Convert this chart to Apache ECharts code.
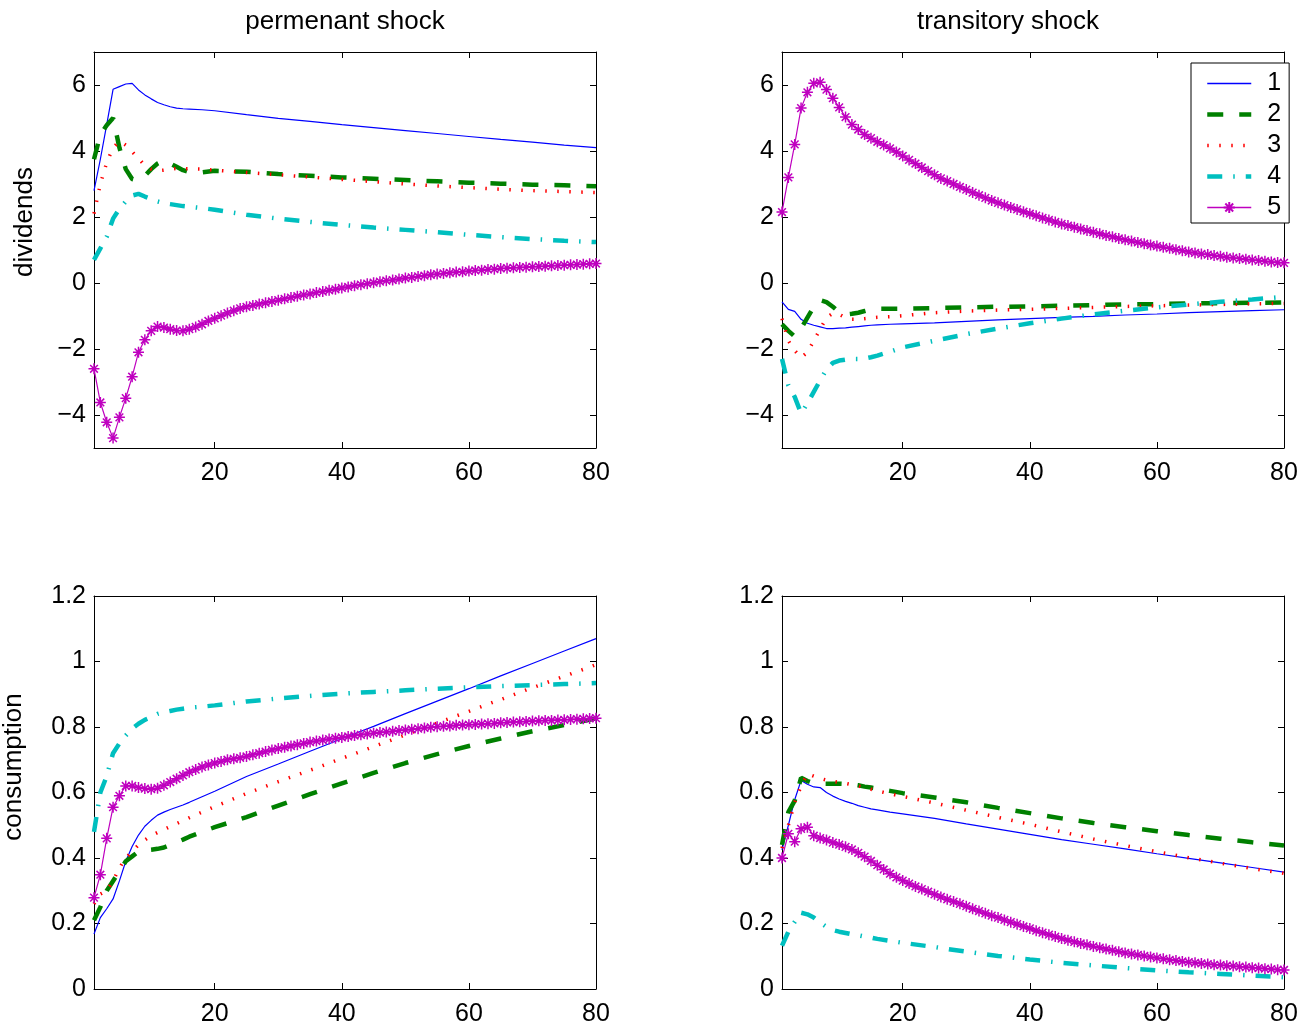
<!DOCTYPE html>
<html>
<head>
<meta charset="utf-8">
<script src="https://cdn.jsdelivr.net/npm/echarts@6/dist/echarts.min.js"></script>
<style>
html,body{margin:0;padding:0;background:#fff;}
#chart{width:1302px;height:1027px;}
</style>
</head>
<body>
<div id="chart"></div>
<script>
// ---------- data ----------
const seriesNames = ['1','2','3','4','5'];
const panelTitles = ['permenant shock','transitory shock'];
const rowLabels = ['dividends','consumption'];
const xTicks = [20,40,60,80];
const divTicks = [-4,-2,0,2,4,6];
const consTicks = [0,0.2,0.4,0.6,0.8,1,1.2];

// x positions where the plain-line series were read
const xSparse = [1,2,3,4,5,6,7,8,9,10,11,12,13,14,15,16,18,20,25,30,35,40,45,50,55,60,65,70,75,80];

// dividends, permanent shock
const divPerm1 = [2.8,3.75,4.8,5.87,5.95,6.03,6.05,5.85,5.7,5.58,5.47,5.4,5.34,5.3,5.28,5.27,5.25,5.22,5.1,4.99,4.9,4.8,4.71,4.62,4.53,4.44,4.35,4.27,4.18,4.1];
const divPerm2 = [3.75,4.5,4.78,5.0,4.1,3.45,3.15,3.1,3.25,3.45,3.62,3.72,3.62,3.52,3.42,3.36,3.35,3.4,3.37,3.3,3.25,3.2,3.16,3.12,3.08,3.04,3.01,2.98,2.96,2.93];
const divPerm3 = [2.1,3.0,3.65,4.1,4.3,4.18,3.98,3.78,3.56,3.45,3.4,3.42,3.45,3.47,3.47,3.46,3.45,3.42,3.35,3.28,3.21,3.14,3.07,3.0,2.94,2.89,2.84,2.8,2.77,2.74];
const divPerm4 = [0.7,1.05,1.4,1.95,2.25,2.47,2.65,2.7,2.62,2.55,2.47,2.42,2.39,2.36,2.33,2.31,2.27,2.22,2.07,1.95,1.85,1.76,1.68,1.61,1.54,1.46,1.39,1.33,1.28,1.24];
const divPerm5 = [-2.6,-3.62,-4.22,-4.7,-4.07,-3.49,-2.84,-2.1,-1.72,-1.45,-1.32,-1.35,-1.4,-1.44,-1.45,-1.4,-1.33,-1.25,-1.15,-1.07,-0.99,-0.91,-0.84,-0.77,-0.72,-0.68,-0.64,-0.6,-0.56,-0.52,-0.48,-0.44,-0.4,-0.36,-0.33,-0.29,-0.26,-0.22,-0.19,-0.15,-0.12,-0.08,-0.05,-0.02,0.01,0.04,0.07,0.09,0.12,0.15,0.17,0.2,0.22,0.25,0.27,0.29,0.31,0.33,0.34,0.36,0.38,0.39,0.41,0.42,0.44,0.45,0.46,0.47,0.48,0.49,0.5,0.51,0.52,0.53,0.54,0.55,0.56,0.57,0.58,0.59];

// dividends, transitory shock
const divTran1 = [-0.57,-0.8,-0.86,-1.1,-1.22,-1.28,-1.33,-1.38,-1.38,-1.37,-1.36,-1.34,-1.32,-1.3,-1.28,-1.27,-1.25,-1.24,-1.21,-1.16,-1.12,-1.08,-1.04,-1.01,-0.97,-0.94,-0.9,-0.87,-0.84,-0.81];
const divTran2 = [-1.25,-1.45,-1.62,-1.38,-1.05,-0.72,-0.52,-0.58,-0.72,-0.88,-0.95,-0.93,-0.9,-0.85,-0.8,-0.78,-0.78,-0.78,-0.76,-0.74,-0.72,-0.71,-0.69,-0.67,-0.65,-0.64,-0.62,-0.61,-0.6,-0.59];
const divTran3 = [-1.08,-1.75,-2.05,-2.26,-2.1,-1.75,-1.4,-1.05,-0.92,-0.95,-1.05,-1.1,-1.1,-1.08,-1.06,-1.04,-1.02,-0.99,-0.9,-0.85,-0.82,-0.8,-0.77,-0.74,-0.71,-0.69,-0.67,-0.65,-0.63,-0.62];
const divTran4 = [-2.3,-3.1,-3.45,-3.95,-3.65,-3.3,-2.95,-2.62,-2.42,-2.35,-2.32,-2.3,-2.3,-2.29,-2.25,-2.2,-2.08,-1.95,-1.75,-1.55,-1.38,-1.22,-1.08,-0.95,-0.84,-0.74,-0.65,-0.57,-0.5,-0.42];
const divTran5 = [2.15,3.2,4.2,5.3,5.78,6.05,6.08,5.86,5.6,5.32,5.03,4.8,4.65,4.5,4.39,4.28,4.18,4.08,3.97,3.85,3.73,3.62,3.5,3.39,3.28,3.17,3.09,3.0,2.91,2.83,2.74,2.66,2.58,2.5,2.43,2.36,2.29,2.23,2.16,2.1,2.04,1.97,1.91,1.85,1.79,1.74,1.69,1.64,1.59,1.54,1.49,1.44,1.4,1.35,1.31,1.27,1.23,1.19,1.15,1.12,1.08,1.05,1.01,0.98,0.94,0.91,0.88,0.86,0.83,0.81,0.78,0.76,0.74,0.72,0.7,0.68,0.66,0.64,0.62,0.61];

// consumption, permanent shock
const conPerm1 = [0.168,0.218,0.245,0.275,0.33,0.39,0.435,0.47,0.497,0.515,0.531,0.54,0.548,0.555,0.562,0.57,0.587,0.604,0.649,0.687,0.726,0.764,0.802,0.841,0.879,0.917,0.956,0.994,1.032,1.07];
const conPerm2 = [0.21,0.25,0.3,0.33,0.36,0.39,0.405,0.42,0.423,0.425,0.428,0.432,0.44,0.448,0.456,0.465,0.48,0.494,0.525,0.56,0.595,0.628,0.66,0.69,0.717,0.742,0.765,0.787,0.806,0.826];
const conPerm3 = [0.26,0.29,0.3,0.33,0.37,0.4,0.42,0.44,0.455,0.468,0.478,0.487,0.496,0.505,0.514,0.523,0.54,0.557,0.597,0.633,0.668,0.704,0.74,0.776,0.812,0.848,0.884,0.92,0.955,0.99];
const conPerm4 = [0.48,0.6,0.65,0.72,0.75,0.774,0.795,0.81,0.822,0.83,0.84,0.845,0.849,0.853,0.856,0.859,0.862,0.866,0.878,0.887,0.895,0.902,0.907,0.912,0.917,0.921,0.925,0.928,0.931,0.934];
const conPerm5 = [0.279,0.349,0.46,0.555,0.59,0.62,0.62,0.615,0.612,0.61,0.613,0.622,0.632,0.642,0.652,0.662,0.67,0.678,0.684,0.69,0.695,0.7,0.703,0.706,0.71,0.715,0.72,0.725,0.73,0.734,0.738,0.742,0.746,0.75,0.754,0.757,0.76,0.763,0.766,0.768,0.771,0.774,0.776,0.779,0.781,0.783,0.785,0.787,0.789,0.791,0.793,0.795,0.797,0.799,0.801,0.802,0.803,0.805,0.806,0.807,0.808,0.809,0.81,0.811,0.813,0.814,0.815,0.816,0.817,0.818,0.819,0.82,0.82,0.821,0.822,0.823,0.824,0.825,0.826,0.827];

// consumption, transitory shock
const conTran1 = [0.425,0.5,0.578,0.637,0.625,0.617,0.615,0.6,0.589,0.58,0.573,0.567,0.56,0.555,0.55,0.547,0.54,0.535,0.521,0.504,0.488,0.472,0.456,0.442,0.428,0.413,0.399,0.385,0.371,0.357];
const conTran2 = [0.44,0.54,0.575,0.645,0.635,0.628,0.627,0.627,0.627,0.627,0.626,0.625,0.622,0.618,0.615,0.612,0.605,0.598,0.585,0.57,0.553,0.537,0.521,0.507,0.494,0.482,0.47,0.459,0.448,0.438];
const conTran3 = [0.43,0.5,0.57,0.62,0.657,0.65,0.643,0.638,0.634,0.631,0.628,0.624,0.62,0.615,0.61,0.605,0.596,0.588,0.568,0.546,0.524,0.503,0.48,0.458,0.438,0.419,0.401,0.384,0.368,0.353];
const conTran4 = [0.132,0.175,0.205,0.233,0.228,0.218,0.203,0.19,0.18,0.175,0.171,0.167,0.164,0.16,0.157,0.153,0.147,0.141,0.128,0.114,0.101,0.09,0.08,0.072,0.064,0.057,0.051,0.046,0.041,0.036];
const conTran5 = [0.4,0.474,0.45,0.489,0.494,0.468,0.461,0.455,0.447,0.441,0.434,0.426,0.416,0.404,0.391,0.378,0.365,0.352,0.341,0.331,0.322,0.313,0.305,0.297,0.289,0.281,0.274,0.267,0.26,0.253,0.245,0.238,0.231,0.224,0.218,0.211,0.204,0.198,0.191,0.185,0.178,0.172,0.166,0.16,0.154,0.149,0.144,0.139,0.135,0.13,0.126,0.122,0.118,0.114,0.11,0.107,0.104,0.101,0.098,0.095,0.092,0.089,0.087,0.084,0.082,0.08,0.078,0.076,0.074,0.073,0.071,0.07,0.068,0.067,0.065,0.064,0.062,0.061,0.059,0.058];

// ---------- presentation ----------
const FONT = '"Liberation Sans", Arial, Helvetica, sans-serif';
const TICK_FS = 25;
const colors = ['#0000ff','#008000','#ff0000','#00bfbf','#bf00bf'];
const asterisk = 'path://M5,0 L5,10 M0,5 L10,5 M1.5,1.5 L8.5,8.5 M1.5,8.5 L8.5,1.5';

const panels = [
  {grid:{left:94, top:52, width:502, height:396}, lines:[divPerm1,divPerm2,divPerm3,divPerm4], star:divPerm5, div:true},
  {grid:{left:782, top:52, width:502, height:396}, lines:[divTran1,divTran2,divTran3,divTran4], star:divTran5, div:true},
  {grid:{left:94, top:596, width:502, height:396}, lines:[conPerm1,conPerm2,conPerm3,conPerm4], star:conPerm5, div:false},
  {grid:{left:782, top:596, width:502, height:396}, lines:[conTran1,conTran2,conTran3,conTran4], star:conTran5, div:false}
];

const lineStyles = [
  {width:1.2, type:'solid'},
  {width:4.5, type:[16,16]},
  {width:3.5, type:[1.5,10.5]},
  {width:4.5, type:[15,11,1.5,11]},
  {width:1.2, type:'solid'}
];

const axisLineCfg = {show:true, onZero:false, lineStyle:{color:'#000', width:1}};
const grids = [], xAxes = [], yAxes = [], series = [];

function fmtDiv(v){ return v < 0 ? '\u2212' + (-v) : String(v); }
function fmtCon(v){ return String(+(+v).toFixed(1)); }

panels.forEach((p, gi) => {
  grids.push(Object.assign({show:false}, p.grid));
  const yMin = p.div ? -5 : 0, yMax = p.div ? 7 : 1.2;
  const yT = p.div ? divTicks : consTicks;
  xAxes.push({
    type:'value', gridIndex:gi, min:1, max:80, position:'bottom',
    axisLine:axisLineCfg,
    axisTick:{show:true, inside:true, length:6, customValues:xTicks, lineStyle:{color:'#000'}},
    axisLabel:{show:true, customValues:xTicks, color:'#000', fontSize:TICK_FS, fontFamily:FONT, margin:13},
    splitLine:{show:false}
  });
  xAxes.push({
    type:'value', gridIndex:gi, min:1, max:80, position:'top',
    axisLine:axisLineCfg,
    axisTick:{show:true, inside:true, length:6, customValues:xTicks, lineStyle:{color:'#000'}},
    axisLabel:{show:false}, splitLine:{show:false}
  });
  yAxes.push({
    type:'value', gridIndex:gi, min:yMin, max:yMax, position:'left',
    axisLine:axisLineCfg,
    axisTick:{show:true, inside:true, length:6, customValues:yT, lineStyle:{color:'#000'}},
    axisLabel:{show:true, customValues:yT, color:'#000', fontSize:TICK_FS, fontFamily:FONT, margin:8,
               formatter: p.div ? fmtDiv : fmtCon},
    splitLine:{show:false}
  });
  yAxes.push({
    type:'value', gridIndex:gi, min:yMin, max:yMax, position:'right',
    axisLine:axisLineCfg,
    axisTick:{show:true, inside:true, length:6, customValues:yT, lineStyle:{color:'#000'}},
    axisLabel:{show:false}, splitLine:{show:false}
  });
  p.lines.forEach((arr, si) => {
    series.push({
      type:'line', name:seriesNames[si], xAxisIndex:2*gi, yAxisIndex:2*gi,
      data: xSparse.map((x, i) => [x, arr[i]]),
      showSymbol:false, symbol:'none',
      lineStyle:Object.assign({color:colors[si]}, lineStyles[si]),
      itemStyle:{color:colors[si]},
      z: 2 + si, silent:true
    });
  });
  series.push({
    type:'line', name:seriesNames[4], xAxisIndex:2*gi, yAxisIndex:2*gi,
    data: p.star.map((v, i) => [i + 1, v]),
    symbol:asterisk, symbolSize:11, showSymbol:true, showAllSymbol:true,
    lineStyle:Object.assign({color:colors[4]}, lineStyles[4]),
    itemStyle:{color:'none', borderColor:colors[4], borderWidth:1.5},
    z: 7, silent:true
  });
});

const legendData = seriesNames.map((n, i) => {
  const item = {name:n, lineStyle:{color:colors[i], width:Math.max(1.6, lineStyles[i].width), type:lineStyles[i].type}};
  if (i < 4) item.itemStyle = {opacity:0};
  return item;
});

const chart = echarts.init(document.getElementById('chart'), null, {renderer:'canvas'});
chart.setOption({
  animation:false,
  backgroundColor:'#fff',
  grid:grids, xAxis:xAxes, yAxis:yAxes, series:series,
  legend:{
    data:legendData, orient:'vertical', left:1191, top:63,
    backgroundColor:'#fff', borderColor:'#000', borderWidth:1,
    padding:[8,8,3,14], itemWidth:44, itemHeight:14, itemGap:6,
    textStyle:{fontSize:TICK_FS, color:'#000', fontFamily:FONT, padding:[0,0,0,11]},
    selectedMode:false, z:20
  },
  graphic:[
    {type:'text', x:345, y:22, style:{text:panelTitles[0], font:'26px ' + FONT, fill:'#000', textAlign:'center', textVerticalAlign:'middle'}},
    {type:'text', x:1008, y:22, style:{text:panelTitles[1], font:'26px ' + FONT, fill:'#000', textAlign:'center', textVerticalAlign:'middle'}},
    {type:'text', x:25, y:222, rotation:Math.PI/2, style:{text:rowLabels[0], font:'26px ' + FONT, fill:'#000', textAlign:'center', textVerticalAlign:'middle'}},
    {type:'text', x:14, y:767, rotation:Math.PI/2, style:{text:rowLabels[1], font:'26px ' + FONT, fill:'#000', textAlign:'center', textVerticalAlign:'middle'}}
  ]
});
</script>
</body>
</html>
